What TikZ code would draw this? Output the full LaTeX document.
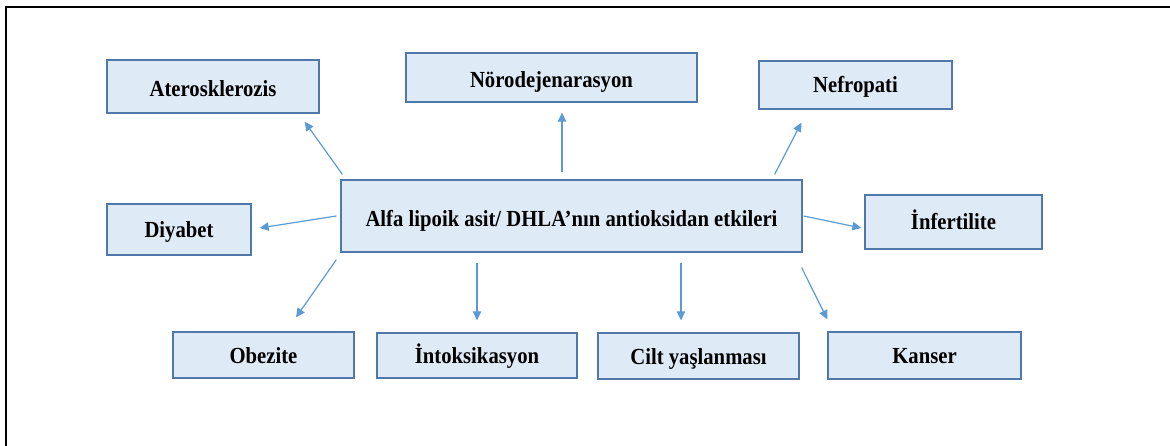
\documentclass[tikz,border=0pt]{standalone}
\usepackage{fontspec}
\setmainfont{Liberation Serif}
\newfontfamily\boxfont[FakeStretch=0.9]{Liberation Serif}
\usetikzlibrary{arrows.meta}
\definecolor{boxfill}{HTML}{DEEBF7}
\definecolor{boxline}{RGB}{80,120,170}
\definecolor{arrcol}{HTML}{5B9BD5}
\tikzset{
  box/.style={draw=boxline, fill=boxfill, line width=1.3pt, rectangle, inner sep=0pt,
    font=\boxfont\fontsize{23}{26}\selectfont\bfseries, text=black,
    text height=20pt, text depth=4pt},
  lowtext/.style={text height=24pt, text depth=3pt},
  arr/.style={draw=arrcol, line width=1.2pt, -{Triangle[length=9pt,width=8.5pt]}},
  frame/.style={line width=2.6pt, black}
}
\begin{document}
\begin{tikzpicture}[x=1pt,y=-1pt]
\useasboundingbox (0,0) rectangle (1170,446);
\coordinate (fa) at (6,446);
\coordinate (fb) at (6,7);
\coordinate (fc) at (1170,7);
\draw[frame] (fa) -- (fb) -- (fc);

\node[box, lowtext, minimum width=461pt, minimum height=72pt] (c) at (571.5,216) {Alfa lipoik asit/ DHLA’nın antioksidan etkileri};
\node[box, lowtext, minimum width=212pt, minimum height=53pt] (ath) at (213,86.5) {Aterosklerozis};
\node[box, lowtext, minimum width=291pt, minimum height=49pt] (nor) at (551.5,77.5) {Nörodejenarasyon};
\node[box, minimum width=193pt, minimum height=48pt] (nef) at (855.5,85) {Nefropati};
\node[box, minimum width=144pt, minimum height=51pt] (diy) at (179,229.5) {Diyabet};
\node[box, minimum width=177pt, minimum height=54pt] (inf) at (953.5,222) {İnfertilite};
\node[box, minimum width=181pt, minimum height=46pt] (obe) at (263.5,355) {Obezite};
\node[box, minimum width=200pt, minimum height=45pt] (int) at (477,355.5) {İntoksikasyon};
\node[box, minimum width=201pt, minimum height=46pt] (cil) at (698.5,356) {Cilt yaşlanması};
\node[box, minimum width=193pt, minimum height=47pt] (kan) at (924.5,355.5) {Kanser};

\draw[arr] ([shift={(2,-5)}]c.north west) -- ([shift={(-15,8)}]ath.south east);
\draw[arr] ([shift={(-4,0)}]c.west) -- ([shift={(8,-1.5)}]diy.east);
\draw[arr] ([shift={(-9.5,-7)}]c.north) -- ([shift={(10.5,10)}]nor.south);
\draw[arr] ([shift={(-28,-5)}]c.north east) -- ([shift={(43,13)}]nef.south west);
\draw[arr] ([shift={(1,0)}]c.east) -- ([shift={(-3,6)}]inf.west);
\draw[arr] ([shift={(-4,7)}]c.south west) -- ([shift={(32.5,-14)}]obe.north);
\draw[arr] ([shift={(-94.5,10)}]c.south) -- ([shift={(0,-12)}]int.north);
\draw[arr] ([shift={(109.5,10)}]c.south) -- ([shift={(-17.5,-12)}]cil.north);
\draw[arr] ([shift={(-1,15)}]c.south east) -- ([shift={(0,-12)}]kan.north west);
\end{tikzpicture}
\end{document}
